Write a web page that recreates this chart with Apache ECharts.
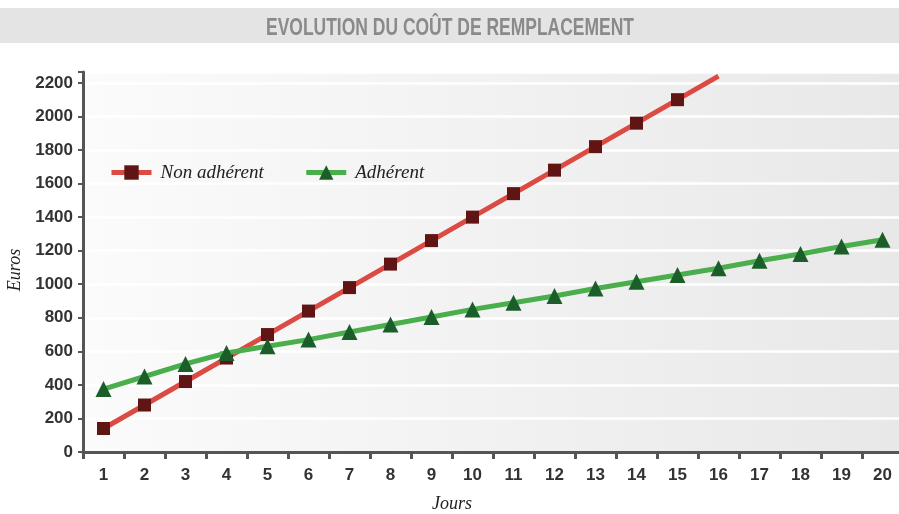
<!DOCTYPE html>
<html><head><meta charset="utf-8">
<script src="https://cdn.jsdelivr.net/npm/echarts@6/dist/echarts.min.js"></script>
<style>html,body{margin:0;padding:0;background:#fff}#c{width:899px;height:514px}</style>
</head><body><div id="c"></div>
<script>
const titleText = 'EVOLUTION DU COÛT DE REMPLACEMENT';
const days = ['1','2','3','4','5','6','7','8','9','10','11','12','13','14','15','16','17','18','19','20'];
const nonAdherent = [140,280,420,560,700,840,980,1120,1260,1400,1540,1680,1820,1960,2100,2240,null,null,null,null];
const adherent = [375,450,525,590,630,670,715,760,805,850,890,930,975,1015,1055,1095,1140,1180,1225,1265];
const seriesNames = ['Non adhérent','Adhérent'];
const yTicks = [0,200,400,600,800,1000,1200,1400,1600,1800,2000,2200];

const chart = echarts.init(document.getElementById('c'));
const redData = nonAdherent.map((v,i)=> i===15 ? {value:v, symbol:'none'} : v);
chart.setOption({
  animation:false,
  graphic:[
    {type:'rect',z:-10,shape:{x:0,y:8,width:899,height:35},style:{fill:'#e3e4e3'}},
    {type:'text',z:10,x:450,y:28,scaleX:0.76,scaleY:1.05,
      style:{text:titleText,fill:'#8a8a8a',font:'bold 23px "Liberation Sans"',textAlign:'center',textVerticalAlign:'middle'}}
  ],
  grid:{left:83,top:72,width:820,height:380,show:true,borderWidth:0,outerBoundsMode:'none',containLabel:false,
    backgroundColor:new echarts.graphic.LinearGradient(0,0,1,0,[{offset:0,color:'#fbfbfb'},{offset:1,color:'#e8e8e8'}])},
  legend:{left:104,top:158,itemWidth:40,itemHeight:18,itemGap:40,
    lineStyle:{width:5},
    textStyle:{fontFamily:'Liberation Serif',fontStyle:'italic',fontSize:19,color:'#222',padding:[0,0,0,4]},
    data:seriesNames},
  xAxis:{type:'category',data:days,boundaryGap:true,
    name:'Jours',nameLocation:'middle',nameGap:43,
    nameTextStyle:{fontFamily:'Liberation Serif',fontStyle:'italic',fontSize:18,color:'#222',padding:[0,0,0,-82]},
    axisLine:{lineStyle:{color:'#555',width:3}},
    axisTick:{show:true,length:7,lineStyle:{color:'#555',width:3}},
    axisLabel:{fontFamily:'Liberation Sans',fontWeight:'bold',fontSize:17,color:'#333',margin:15}},
  yAxis:{type:'value',min:0,max:2265,interval:200,
    name:'Euros',nameLocation:'middle',nameGap:56,nameRotate:90,
    nameTextStyle:{fontFamily:'Liberation Serif',fontStyle:'italic',fontSize:18,color:'#222',padding:[0,16,0,0]},
    axisLine:{show:true,lineStyle:{color:'#555',width:3}},
    axisTick:{show:true,length:5,lineStyle:{color:'#555',width:2}},
    axisLabel:{fontFamily:'Liberation Sans',fontWeight:'bold',fontSize:17,color:'#333',margin:10,
      formatter:v=> yTicks.indexOf(v)>=0 ? String(v) : ''},
    splitLine:{lineStyle:{color:'#ffffff',width:2.5}}},
  series:[
    {name:seriesNames[0],type:'line',data:redData,symbol:'rect',symbolSize:13,
      lineStyle:{color:'#db4b43',width:5},itemStyle:{color:'#601414'},z:2},
    {name:seriesNames[1],type:'line',data:adherent,symbol:'triangle',symbolSize:16,
      lineStyle:{color:'#4aae4c',width:5},itemStyle:{color:'#1b5e2a'},z:3}
  ]
});
</script></body></html>
